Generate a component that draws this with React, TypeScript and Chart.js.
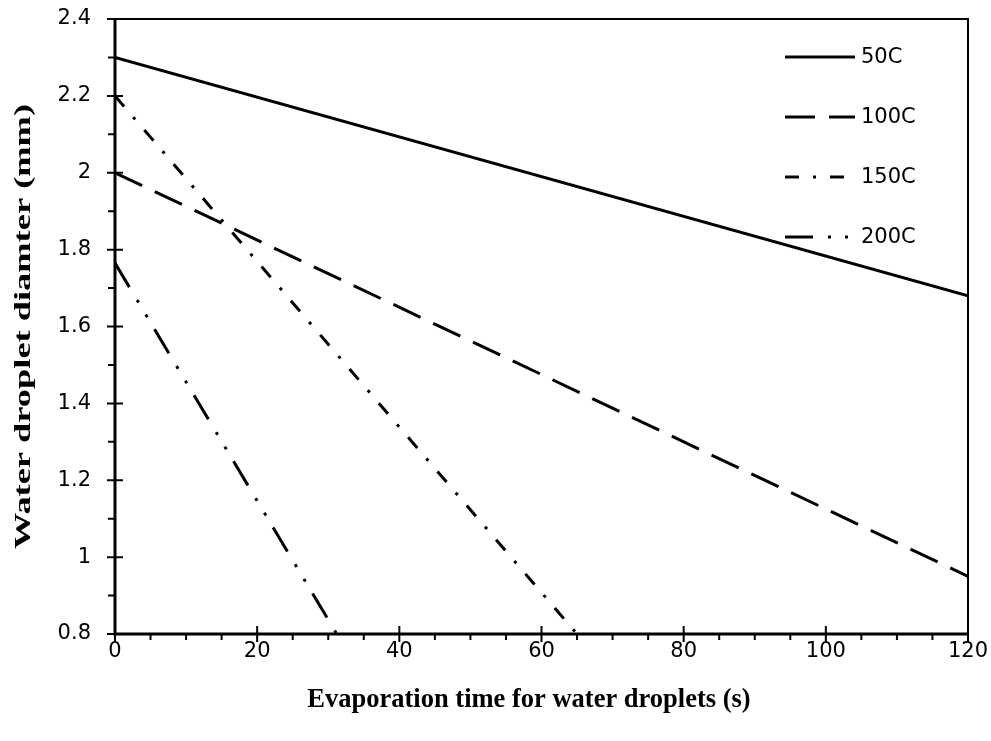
import React, { useEffect, useRef } from "react";
import { Chart, registerables } from "chart.js";

Chart.register(...registerables);

const seriesLabels = ["50C", "100C", "150C", "200C"];
const times50 = [0, 120];
const diam50 = [2.3, 1.68];
const times100 = [0, 120];
const diam100 = [2.0, 0.95];
const times150 = [0, 65];
const diam150 = [2.2, 0.8];
const times200 = [0, 31.2];
const diam200 = [1.765, 0.8];

const xTicks = [0, 20, 40, 60, 80, 100, 120];
const yTicks = [0.8, 1, 1.2, 1.4, 1.6, 1.8, 2, 2.2, 2.4];

const xTitle = "Evaporation time for water droplets (s)";
const yTitle = "Water droplet diamter (mm)";

const dashes: number[][] = [[], [30, 14], [14, 14, 3, 14], [28, 15, 3, 14, 3, 14]];

const toPts = (xs: number[], ys: number[]) => xs.map((x, i) => ({ x, y: ys[i] }));

const tickFont = "'DejaVu Sans'";

const frame = {
  id: "frame",
  afterDraw(chart: any) {
    const ctx = chart.ctx;
    const { left, right, top, bottom } = chart.chartArea;
    const xs = chart.scales.x;
    const ys = chart.scales.y;
    ctx.save();
    ctx.strokeStyle = "#000";
    // top & right border
    ctx.lineWidth = 2;
    ctx.beginPath();
    ctx.moveTo(left, top);
    ctx.lineTo(right, top);
    ctx.lineTo(right, bottom);
    ctx.stroke();
    // axes
    ctx.lineWidth = 3;
    ctx.beginPath();
    ctx.moveTo(left, top - 1);
    ctx.lineTo(left, bottom);
    ctx.lineTo(right + 1, bottom);
    ctx.stroke();
    // y ticks
    ctx.lineWidth = 2;
    ctx.beginPath();
    for (let i = 0; i < yTicks.length; i++) {
      const p = ys.getPixelForValue(yTicks[i]);
      ctx.moveTo(left - 8, p);
      ctx.lineTo(left + 8, p);
      if (i < yTicks.length - 1) {
        const m = ys.getPixelForValue((yTicks[i] + yTicks[i + 1]) / 2);
        ctx.moveTo(left - 7, m);
        ctx.lineTo(left, m);
      }
    }
    // x ticks
    for (let i = 0; i < xTicks.length; i++) {
      const p = xs.getPixelForValue(xTicks[i]);
      ctx.moveTo(p, bottom - 8);
      ctx.lineTo(p, bottom + 8);
      if (i < xTicks.length - 1) {
        const step = (xTicks[i + 1] - xTicks[i]) / 4;
        for (let k = 1; k < 4; k++) {
          const m = xs.getPixelForValue(xTicks[i] + step * k);
          ctx.moveTo(m, bottom);
          ctx.lineTo(m, bottom + 6);
        }
      }
    }
    ctx.stroke();

    // legend
    const lx0 = 785;
    const lx1 = 855;
    const rowY = [57, 117, 177, 237];
    chart.data.datasets.forEach((ds: any, i: number) => {
      const y = rowY[i];
      ctx.save();
      ctx.lineWidth = 3;
      ctx.strokeStyle = "#000";
      ctx.setLineDash(ds.borderDash || []);
      ctx.beginPath();
      ctx.moveTo(lx0, y);
      ctx.lineTo(lx1, y);
      ctx.stroke();
      ctx.restore();
      ctx.fillStyle = "#000";
      ctx.font = `21px ${tickFont}`;
      ctx.textBaseline = "middle";
      ctx.textAlign = "left";
      ctx.fillText(ds.label, 861, y + 1);
    });

    // x title
    ctx.save();
    ctx.font = "bold 26.5px 'Liberation Serif'";
    ctx.fillStyle = "#000";
    ctx.textAlign = "center";
    ctx.textBaseline = "middle";
    ctx.fillText(xTitle, 529, 700);
    ctx.restore();

    // y title (condensed along its length as in the reference)
    ctx.save();
    ctx.font = "bold 23px 'Liberation Serif'";
    const w = ctx.measureText(yTitle).width;
    ctx.translate(24, (top + bottom) / 2);
    ctx.rotate(-Math.PI / 2);
    ctx.scale(445 / w, 1);
    ctx.fillStyle = "#000";
    ctx.textAlign = "center";
    ctx.textBaseline = "middle";
    ctx.fillText(yTitle, 0, 0);
    ctx.restore();

    ctx.restore();
  },
};

export default function App() {
  const ref = useRef<HTMLCanvasElement | null>(null);
  useEffect(() => {
    document.body.style.margin = "0";
    const series = [
      toPts(times50, diam50),
      toPts(times100, diam100),
      toPts(times150, diam150),
      toPts(times200, diam200),
    ];
    const chart = new Chart(ref.current as HTMLCanvasElement, {
      type: "scatter",
      data: {
        datasets: series.map((d, i) => ({
          label: seriesLabels[i],
          data: d,
          showLine: true,
          borderColor: "#000",
          backgroundColor: "#000",
          borderWidth: 3,
          borderDash: dashes[i],
          pointRadius: 0,
          fill: false,
        })),
      },
      options: {
        animation: false,
        responsive: true,
        maintainAspectRatio: false,
        layout: { padding: { left: 0, top: 19, right: 23, bottom: 0 } },
        plugins: { legend: { display: false }, tooltip: { enabled: false } },
        scales: {
          x: {
            type: "linear",
            min: 0,
            max: 120,
            afterFit: (s: any) => {
              s.height = 107;
              s.paddingLeft = 0;
              s.paddingRight = 0;
            },
            afterBuildTicks: (s: any) => {
              s.ticks = xTicks.map((v) => ({ value: v }));
            },
            grid: { display: false, drawTicks: false },
            border: { display: false },
            ticks: {
              color: "#000",
              font: { family: tickFont, size: 21 },
              padding: 5,
              maxRotation: 0,
            },
            title: { display: false },
          },
          y: {
            type: "linear",
            min: 0.8,
            max: 2.4,
            afterFit: (s: any) => {
              s.width = 115;
              s.paddingTop = 0;
              s.paddingBottom = 0;
            },
            afterBuildTicks: (s: any) => {
              s.ticks = yTicks.map((v) => ({ value: v }));
            },
            grid: { display: false, drawTicks: false },
            border: { display: false },
            ticks: {
              color: "#000",
              font: { family: tickFont, size: 21 },
              padding: 24,
              callback: (v: any) => String(Math.round(Number(v) * 10) / 10),
            },
            title: { display: false },
          },
        },
      },
      plugins: [frame],
    });
    return () => chart.destroy();
  }, []);
  return (
    <div style={{ position: "absolute", left: 0, top: 0, width: 991, height: 741 }}>
      <canvas ref={ref} />
    </div>
  );
}
